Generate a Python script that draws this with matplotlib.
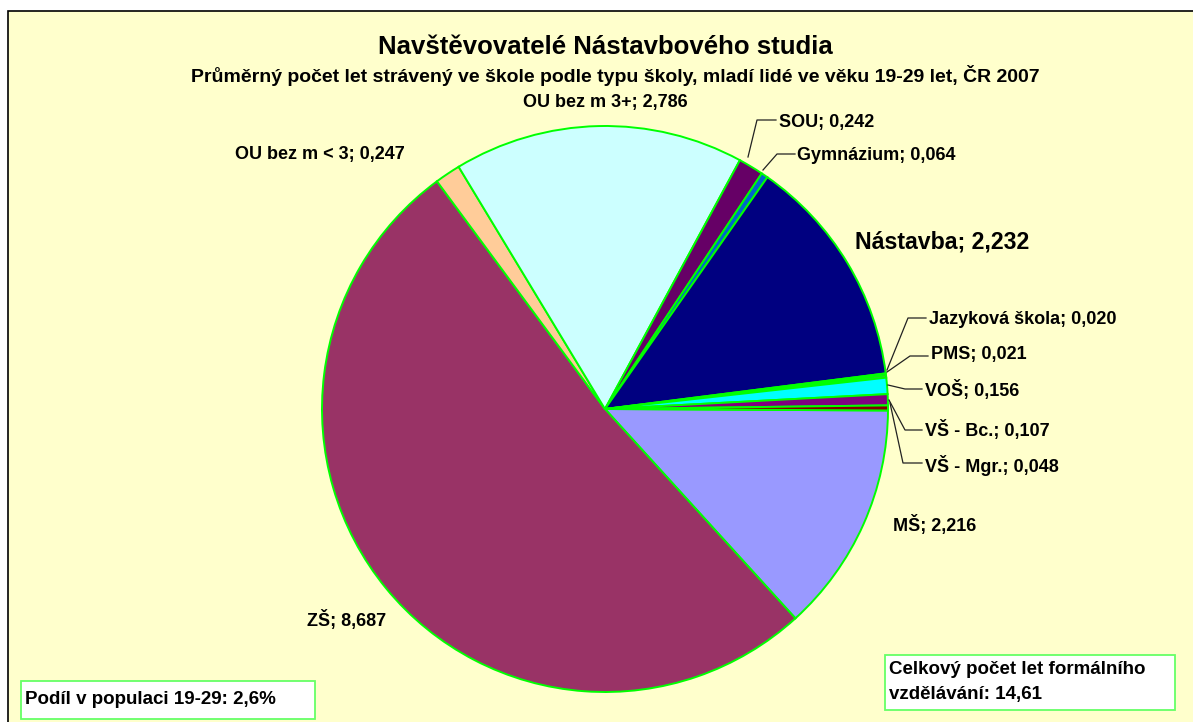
import matplotlib.pyplot as plt
from matplotlib.patches import Rectangle

plt.rcParams['font.family'] = ['Liberation Sans', 'DejaVu Sans']

# slices listed clockwise, starting at 3 o'clock
labels = ["MŠ", "ZŠ", "OU bez m < 3", "OU bez m 3+", "SOU", "Gymnázium", "Nástavba",
          "Jazyková škola", "PMS", "VOŠ", "VŠ - Bc.", "VŠ - Mgr."]
values = [2.216, 8.687, 0.247, 2.786, 0.242, 0.064, 2.232, 0.020, 0.021, 0.156, 0.107, 0.048]
colors = ["#9999FF", "#993366", "#FFCC99", "#CCFFFF", "#660066", "#0066CC", "#000080",
          "#008080", "#FF00FF", "#00FFFF", "#800080", "#800000"]
value_txt = ["2,216", "8,687", "0,247", "2,786", "0,242", "0,064", "2,232",
             "0,020", "0,021", "0,156", "0,107", "0,048"]

title = "Navštěvovatelé Nástavbového studia"
subtitle = "Průměrný počet let strávený ve škole podle typu školy, mladí lidé ve věku 19-29 let, ČR 2007"
box_left = "Podíl v populaci 19-29: 2,6%"
box_right = ["Celkový počet let formálního", "vzdělávání: 14,61"]

W, H = 1193, 722
fig = plt.figure(figsize=(W / 100, H / 100), dpi=100)
fig.patch.set_facecolor("white")
ax = fig.add_axes([0, 0, 1, 1])


def py(y):
    # convert image-style y (from top) to axes y
    return H - y


# chart area
ax.add_patch(Rectangle((8, -5), W, py(11) + 5, facecolor="#FFFFCC",
                       edgecolor="black", linewidth=1.2))

cx, cy, r = 605, py(409), 283
wedges, _ = ax.pie(values, colors=colors, startangle=-0.3, counterclock=False,
                   center=(cx, cy), radius=r, frame=True,
                   wedgeprops=dict(edgecolor="#00FF00", linewidth=1.4))
ax.set_xlim(0, W)
ax.set_ylim(0, H)
ax.set_aspect("auto")
ax.axis("off")

ax.text(605, py(47), title, ha="center", va="center", fontsize=18.5, fontweight="bold")
ax.text(615, py(76), subtitle, ha="center", va="center", fontsize=14, fontweight="bold")

lab = [f"{l}; {v}" for l, v in zip(labels, value_txt)]
fs = 13
# label text positions in image pixels
ax.text(605, py(102), lab[3], ha="center", va="center", fontsize=fs, fontweight="bold")
ax.text(405, py(155), lab[2], ha="right", va="center", fontsize=fs, fontweight="bold")
ax.text(307, py(620), lab[1], ha="left", va="center", fontsize=fs, fontweight="bold")
ax.text(893, py(525), lab[0], ha="left", va="center", fontsize=fs, fontweight="bold")
ax.text(855, py(242), lab[6], ha="left", va="center", fontsize=16.7, fontweight="bold")

leaders = [
    (4, [(748, 157), (757, 120), (776, 120)], (779, 122)),
    (5, [(763, 170), (777, 154), (795, 154)], (797, 155)),
    (7, [(887, 370), (908, 318), (926, 318)], (929, 320)),
    (8, [(887, 372), (910, 356), (928, 356)], (931, 354)),
    (9, [(888, 385), (905, 389), (922, 389)], (925, 390)),
    (10, [(889, 400), (905, 430), (922, 430)], (925, 430)),
    (11, [(890, 403), (903, 463), (922, 463)], (925, 465)),
]
for i, pts, (tx, ty) in leaders:
    ax.plot([p[0] for p in pts], [py(p[1]) for p in pts], color="#222222", linewidth=0.9)
    ax.text(tx, py(ty), lab[i], ha="left", va="center", fontsize=fs, fontweight="bold")

# info boxes
ax.add_patch(Rectangle((21, py(719)), 294, 38, facecolor="white", edgecolor="#66FF66", linewidth=1.3))
ax.text(25, py(700), box_left, ha="left", va="center", fontsize=13.5, fontweight="bold")
ax.add_patch(Rectangle((885, py(710)), 290, 55, facecolor="white", edgecolor="#66FF66", linewidth=1.3))
ax.text(889, py(670), box_right[0], ha="left", va="center", fontsize=13.5, fontweight="bold")
ax.text(889, py(695), box_right[1], ha="left", va="center", fontsize=13.5, fontweight="bold")

fig.savefig("out.png", dpi=100)
